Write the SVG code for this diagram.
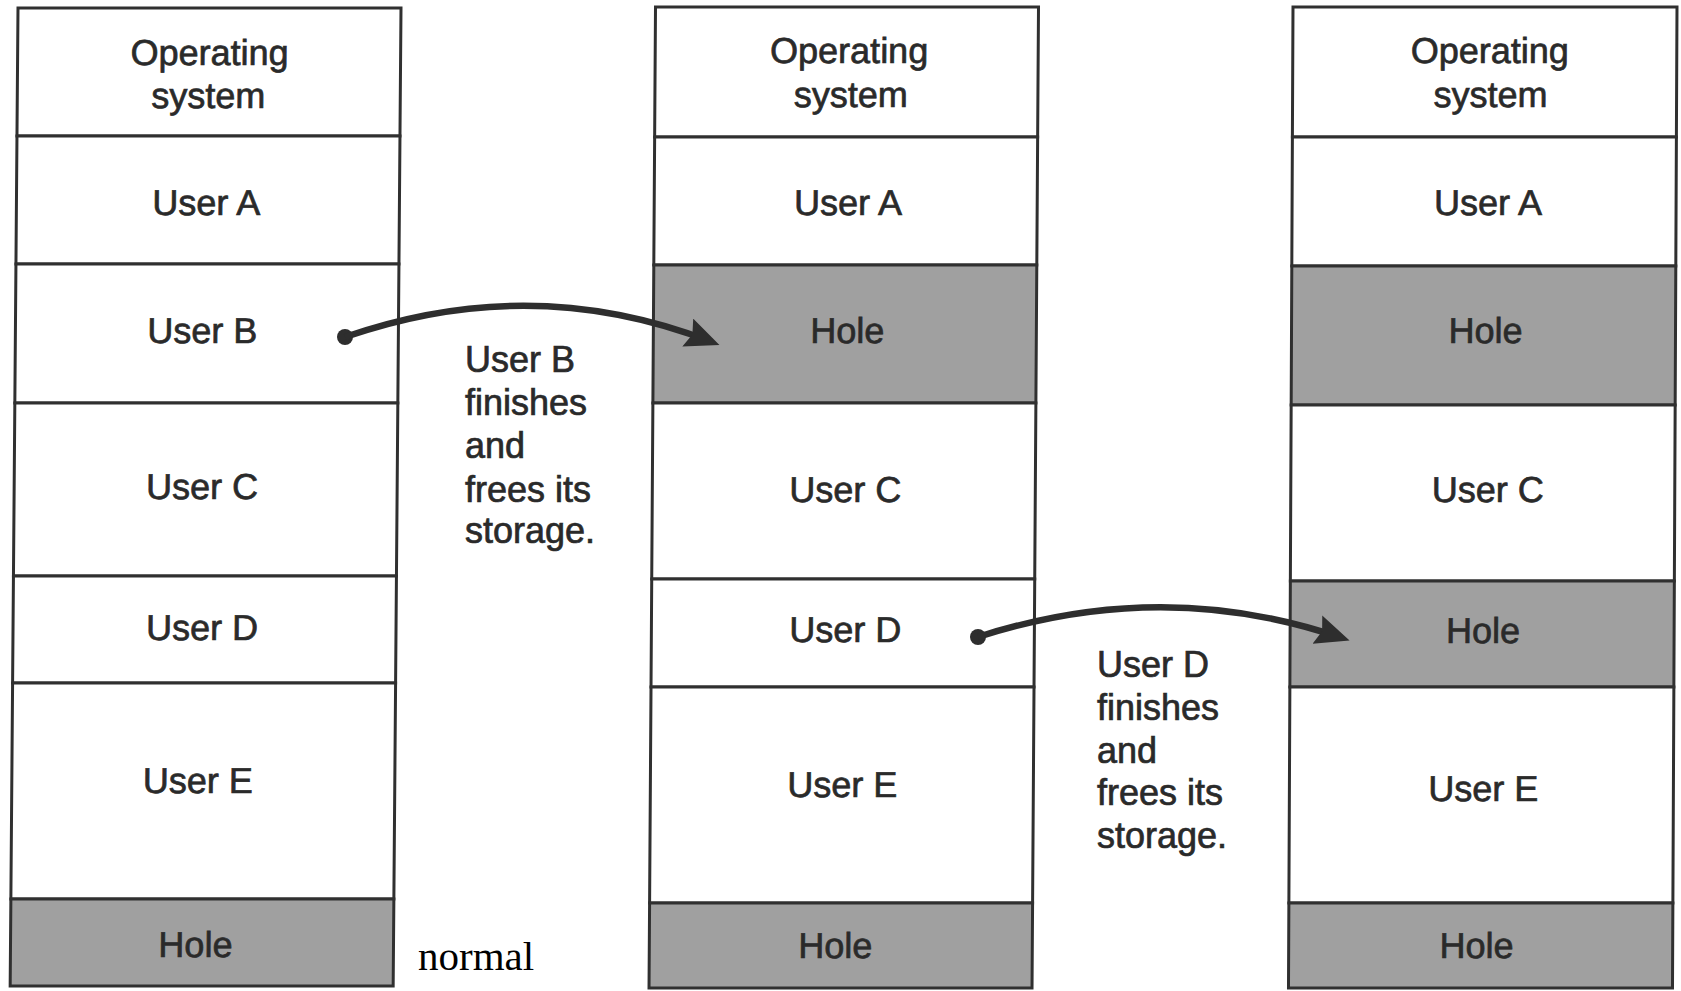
<svg xmlns="http://www.w3.org/2000/svg" width="1681" height="991" viewBox="0 0 1681 991">
  <style>
    .cell { fill: #ffffff; stroke: #303030; stroke-width: 3; }
    .hole { fill: #a0a0a0; stroke: #303030; stroke-width: 3; }
    .lbl { font-family: "Liberation Sans", Arial, sans-serif; font-size: 36px; fill: #2a2a2a; stroke: #2a2a2a; stroke-width: 0.7; text-anchor: middle; }
    .note { font-family: "Liberation Sans", Arial, sans-serif; font-size: 36px; fill: #2a2a2a; stroke: #2a2a2a; stroke-width: 0.7; }
    .serif { font-family: "Liberation Serif", "Times New Roman", serif; font-size: 41px; fill: #000000; }
    .wire { fill: none; stroke: #2e2e2e; stroke-width: 6.5; }
    .dot { fill: #2e2e2e; }
  </style>
  <defs>
    <marker id="head" markerUnits="userSpaceOnUse" markerWidth="36" markerHeight="32" refX="26" refY="15" orient="auto">
      <path d="M0,0 L34,15 L0,30 L5,15 z" fill="#2e2e2e"/>
    </marker>
  </defs>

  <rect x="0" y="0" width="1681" height="991" fill="#ffffff"/>

  <!-- memory map 1: initial layout -->
  <g id="map1" transform="matrix(1 0 -0.008 1 18.06 0)">
    <g id="m1-os">
      <rect class="cell" x="0" y="8" width="383" height="128"/>
      <text class="lbl" x="192" y="65">Operating</text>
      <text class="lbl" x="191" y="108">system</text>
    </g>
    <g id="m1-a">
      <rect class="cell" x="0" y="136" width="383" height="128"/>
      <text class="lbl" x="190" y="215">User A</text>
    </g>
    <g id="m1-b">
      <rect class="cell" x="0" y="264" width="383" height="139"/>
      <text class="lbl" x="187" y="343">User B</text>
    </g>
    <g id="m1-c">
      <rect class="cell" x="0" y="403" width="383" height="173"/>
      <text class="lbl" x="188" y="499">User C</text>
    </g>
    <g id="m1-d">
      <rect class="cell" x="0" y="576" width="383" height="107"/>
      <text class="lbl" x="189" y="640">User D</text>
    </g>
    <g id="m1-e">
      <rect class="cell" x="0" y="683" width="383" height="216"/>
      <text class="lbl" x="186" y="793">User E</text>
    </g>
    <g id="m1-hole">
      <rect class="hole" x="0" y="899" width="383" height="87"/>
      <text class="lbl" x="185" y="957">Hole</text>
    </g>
  </g>

  <!-- memory map 2: after B finishes -->
  <g id="map2" transform="matrix(1 0 -0.0066 1 655.55 0)">
    <g id="m2-os">
      <rect class="cell" x="0" y="7" width="383" height="130"/>
      <text class="lbl" x="194" y="63">Operating</text>
      <text class="lbl" x="196" y="107">system</text>
    </g>
    <g id="m2-a">
      <rect class="cell" x="0" y="137" width="383" height="128"/>
      <text class="lbl" x="194" y="215">User A</text>
    </g>
    <g id="m2-hole1">
      <rect class="hole" x="0" y="265" width="383" height="138"/>
      <text class="lbl" x="194" y="343">Hole</text>
    </g>
    <g id="m2-c">
      <rect class="cell" x="0" y="403" width="383" height="176"/>
      <text class="lbl" x="193" y="502">User C</text>
    </g>
    <g id="m2-d">
      <rect class="cell" x="0" y="579" width="383" height="108"/>
      <text class="lbl" x="194" y="642">User D</text>
    </g>
    <g id="m2-e">
      <rect class="cell" x="0" y="687" width="383" height="216"/>
      <text class="lbl" x="192" y="797">User E</text>
    </g>
    <g id="m2-hole2">
      <rect class="hole" x="0" y="903" width="383" height="85"/>
      <text class="lbl" x="186" y="958">Hole</text>
    </g>
  </g>

  <!-- memory map 3: after D finishes -->
  <g id="map3" transform="matrix(1 0 -0.0046 1 1293.03 0)">
    <g id="m3-os">
      <rect class="cell" x="0" y="7" width="384" height="130"/>
      <text class="lbl" x="197" y="63">Operating</text>
      <text class="lbl" x="198" y="107">system</text>
    </g>
    <g id="m3-a">
      <rect class="cell" x="0" y="137" width="384" height="129"/>
      <text class="lbl" x="196" y="215">User A</text>
    </g>
    <g id="m3-hole1">
      <rect class="hole" x="0" y="266" width="384" height="139"/>
      <text class="lbl" x="194" y="343">Hole</text>
    </g>
    <g id="m3-c">
      <rect class="cell" x="0" y="405" width="384" height="176"/>
      <text class="lbl" x="197" y="502">User C</text>
    </g>
    <g id="m3-hole2">
      <rect class="hole" x="0" y="581" width="384" height="106"/>
      <text class="lbl" x="193" y="643">Hole</text>
    </g>
    <g id="m3-e">
      <rect class="cell" x="0" y="687" width="384" height="216"/>
      <text class="lbl" x="194" y="801">User E</text>
    </g>
    <g id="m3-hole3">
      <rect class="hole" x="0" y="903" width="384" height="85"/>
      <text class="lbl" x="188" y="958">Hole</text>
    </g>
  </g>

  <!-- transition notes -->
  <g id="note-b">
    <text class="note" x="465" y="372">User B</text>
    <text class="note" x="465" y="415">finishes</text>
    <text class="note" x="465" y="458">and</text>
    <text class="note" x="465" y="502">frees its</text>
    <text class="note" x="465" y="543">storage.</text>
  </g>
  <g id="note-d">
    <text class="note" x="1097" y="677">User D</text>
    <text class="note" x="1097" y="720">finishes</text>
    <text class="note" x="1097" y="763">and</text>
    <text class="note" x="1097" y="805">frees its</text>
    <text class="note" x="1097" y="848">storage.</text>
  </g>

  <text id="caption" class="serif" x="418" y="970">normal</text>

  <!-- connectors: freed block moves into a hole -->
  <g id="connectors">
    <circle class="dot" cx="345" cy="337" r="8"/>
    <path class="wire" d="M345,337 Q532,272 712,342" marker-end="url(#head)"/>
    <circle class="dot" cx="978" cy="637" r="8"/>
    <path class="wire" d="M978,637 Q1164,577 1342,638" marker-end="url(#head)"/>
  </g>
</svg>
